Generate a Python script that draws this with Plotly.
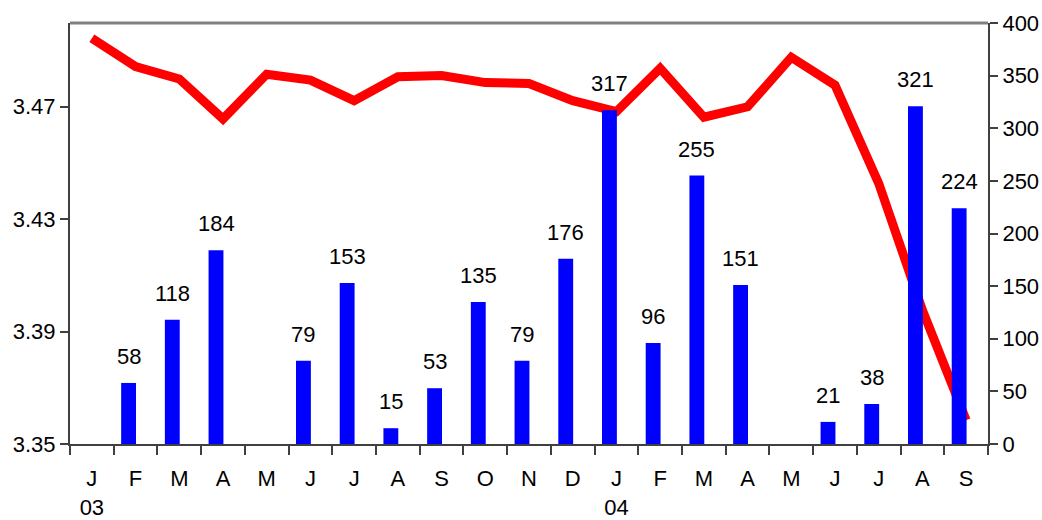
import plotly.graph_objects as go

# Months from Jan 2003 to Sep 2004
months = ["J", "F", "M", "A", "M", "J", "J", "A", "S", "O", "N", "D",
          "J", "F", "M", "A", "M", "J", "J", "A", "S"]
years = {0: "03", 12: "04"}

# Monthly volume (right axis); None where no bar is drawn
volume = [None, 58, 118, 184, None, 79, 153, 15, 53, 135, 79, 176,
          317, 96, 255, 151, None, 21, 38, 321, 224]

# Rate (left axis)
rate = [3.4943, 3.4842, 3.4798, 3.4656, 3.4815, 3.4794, 3.4721, 3.4806,
        3.4810, 3.4785, 3.4782, 3.4721, 3.4682, 3.4836, 3.4662, 3.4699,
        3.4875, 3.4776, 3.4427, 3.3976, 3.3585]

left_ticks = [3.35, 3.39, 3.43, 3.47]
right_ticks = [0, 50, 100, 150, 200, 250, 300, 350, 400]

FONT = "Liberation Sans, Arial, sans-serif"
n = len(months)
x = list(range(n))
tick_text = [m + ("<br>" + years[i] if i in years else "") for i, m in enumerate(months)]

BAR_W = 0.34
BAR_OFF = -0.33

fig = go.Figure()
fig.add_trace(go.Bar(
    x=x, y=volume, yaxis="y2",
    width=BAR_W, offset=BAR_OFF,
    marker=dict(color="#0000FF", line=dict(width=0)),
    showlegend=False, hoverinfo="skip",
))
fig.add_trace(go.Scatter(
    x=x, y=rate, mode="lines",
    line=dict(color="#FF0000", width=9),
    showlegend=False, hoverinfo="skip",
))

# Value labels above each bar
for i, v in enumerate(volume):
    if v is None:
        continue
    fig.add_annotation(
        x=i + BAR_OFF + BAR_W / 2, y=v, xref="x", yref="y2",
        text=str(v), showarrow=False, yanchor="bottom", yshift=12,
        font=dict(family=FONT, size=22, color="#000000"),
    )

# Grey frame line along the top of the plot area
fig.add_shape(type="line", xref="paper", yref="paper", x0=0, x1=1, y0=1, y1=1,
              line=dict(color="#808080", width=3))

fig.update_layout(
    width=1042, height=520,
    margin=dict(l=70, r=54, t=23, b=76),
    paper_bgcolor="white", plot_bgcolor="white",
    font=dict(family=FONT, size=22, color="#000000"),
    barmode="overlay",
    xaxis=dict(
        range=[-0.5, n - 0.5], automargin=False,
        tickmode="array", tickvals=x, ticktext=tick_text,
        ticks="", ticklabelstandoff=14,
        showline=True, linecolor="#404040", linewidth=2,
        showgrid=False, zeroline=False,
        minor=dict(tickmode="array", tickvals=[i - 0.5 for i in range(n + 1)],
                   ticks="outside", ticklen=9, tickcolor="#404040",
                   tickwidth=1.5, showgrid=False),
        tickfont=dict(size=22),
    ),
    yaxis=dict(
        range=[3.35, 3.4997], automargin=False,
        tickmode="array", tickvals=left_ticks,
        ticktext=[f"{t:.2f}" for t in left_ticks],
        ticks="outside", ticklen=8, tickcolor="#404040", tickwidth=1.5,
        showline=True, linecolor="#404040", linewidth=2,
        showgrid=False, zeroline=False,
        tickfont=dict(size=22),
    ),
    yaxis2=dict(
        range=[0, 400], overlaying="y", side="right", automargin=False,
        tickmode="array", tickvals=right_ticks,
        ticks="outside", ticklen=8, tickcolor="#404040", tickwidth=1.5,
        showline=True, linecolor="#404040", linewidth=2,
        showgrid=False, zeroline=False,
        tickfont=dict(size=22),
    ),
)

fig.write_html("out.html")
